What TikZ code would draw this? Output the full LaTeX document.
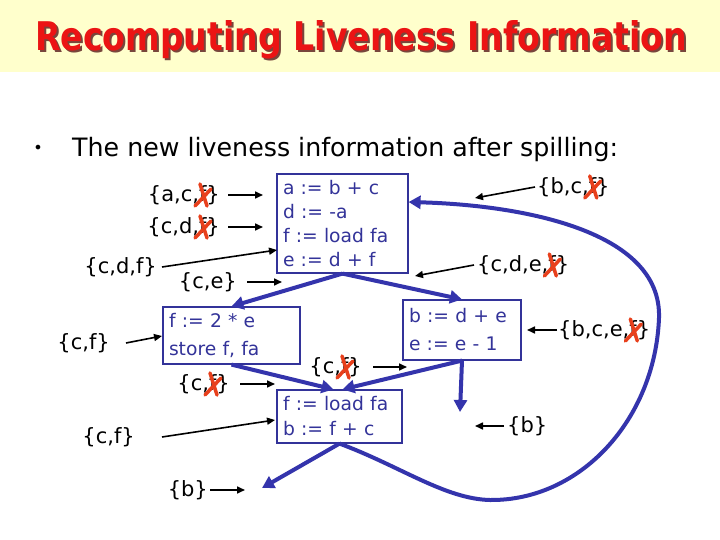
\documentclass[tikz,border=0pt]{standalone}
\usepackage{fontspec}
\setmainfont{DejaVu Sans}
\usetikzlibrary{arrows.meta,calc}
\definecolor{band}{RGB}{255,255,204}
\definecolor{titlered}{RGB}{235,20,20}
\definecolor{titleshadow}{RGB}{120,70,60}
\definecolor{codeblue}{RGB}{51,51,153}
\definecolor{flowblue}{RGB}{52,52,172}
\definecolor{xred}{RGB}{232,64,28}
\newcommand\crossf[2]{%
  \begin{scope}[shift={($(#1.east)+(-#2-17,0)$)}]
    \draw[xstroke] (-3,-11) -- (4,11);
    \draw[xstroke] (-8,11) -- (8,-6);
  \end{scope}}
\begin{document}
\begin{tikzpicture}[x=1pt,y=-1pt,
  setlbl/.style={font=\fontsize{21}{21}\selectfont, inner ysep=0pt, text=black},
  blk/.style={draw=codeblue, line width=1.2pt, text=codeblue, align=left, inner xsep=6pt, inner ysep=2pt},
  flow/.style={draw=flowblue, line width=4pt, -{Triangle[length=12pt,width=13pt]}},
  lblarrow/.style={draw=black, line width=1.6pt, -{Triangle[length=8pt,width=7pt]}},
  xstroke/.style={draw=xred, line width=3.5pt, line cap=round}]
\useasboundingbox (0,0) rectangle (720,540);
\fill[white] (0,0) rectangle (720,540);
\fill[band] (0,0) rectangle (720,72);
% title with shadow
\node[anchor=base west, inner sep=0pt, text=titleshadow] (titleS) at (37,53)
  {\resizebox{652pt}{30pt}{\bfseries Recomputing Liveness Information}};
\node[anchor=base west, inner sep=0pt, text=titlered] (title) at (35,51)
  {\resizebox{652pt}{30pt}{\bfseries Recomputing Liveness Information}};
% bullet
\node[inner sep=0pt, font=\fontsize{16}{16}\selectfont] (bul) at (38,149) {•};
\node[anchor=base west, inner sep=0pt, font=\fontsize{25.3}{25.3}\selectfont] (head) at (72,157)
  {The new liveness information after spilling:};
% blocks
\node[blk, minimum width=131pt, minimum height=99pt, text width=119pt,
      font=\fontsize{18.7}{24}\selectfont] (B1) at (342.5,223.5)
  {a := b + c\\ d := -a\\ f := load fa\\ e := d + f};
\node[blk, minimum width=137pt, minimum height=57pt, text width=125pt,
      font=\fontsize{18.7}{28}\selectfont] (B2) at (231.5,335.5)
  {f := 2 * e\\ store f, fa};
\node[blk, minimum width=118pt, minimum height=60pt, text width=106pt,
      font=\fontsize{18.7}{28}\selectfont] (B3) at (462,330)
  {b := d + e\\ e := e - 1};
\node[blk, minimum width=125pt, minimum height=53pt, text width=113pt,
      font=\fontsize{18.7}{25}\selectfont] (B4) at (339.5,416.5)
  {f := load fa\\ b := f + c};
% flow edges
\coordinate (b3out) at (460,412);
\coordinate (b4out) at (262,488);
\draw[flow] (B1.south) -- (B2.north);
\draw[flow] (B1.south) -- (B3.north);
\draw[flow] (B2.south) -- ([xshift=-6pt]B4.north);
\draw[flow] (B3.south) -- ([xshift=3pt]B4.north);
\draw[flow] (B3.south) -- (b3out);
\draw[flow] (B4.south) -- (b4out);
\draw[flow] (B4.south) .. controls (400,466) and (445,499) .. (490,500)
  .. controls (580,501) and (655,420) .. (659,318)
  .. controls (662,230) and (520,205) .. ([yshift=21.5pt]B1.east);
% set labels
\node[setlbl, anchor=east, inner xsep=8pt] (s1) at (228,195) {\{a,c,f\}};
\node[setlbl, anchor=east, inner xsep=8pt] (s2) at (228,227) {\{c,d,f\}};
\node[setlbl, anchor=east, inner xsep=5pt] (s3) at (162,267) {\{c,d,f\}};
\node[setlbl, anchor=east, inner xsep=10pt] (s4) at (247,282) {\{c,e\}};
\node[setlbl, anchor=east, inner xsep=16pt] (s5) at (126,343) {\{c,f\}};
\node[setlbl, anchor=east, inner xsep=10pt] (s6) at (240,384) {\{c,f\}};
\node[setlbl, anchor=east, inner xsep=11pt] (s7) at (373,367) {\{c,f\}};
\node[setlbl, anchor=east, inner xsep=27pt] (s8) at (162,437) {\{c,f\}};
\node[setlbl, anchor=east, inner xsep=2pt] (s9) at (210,490) {\{b\}};
\node[setlbl, anchor=west, inner xsep=2pt] (s10) at (535,187) {\{b,c,f\}};
\node[setlbl, anchor=west, inner xsep=3pt] (s11) at (474,265) {\{c,d,e,f\}};
\node[setlbl, anchor=west, inner xsep=1pt] (s12) at (557,330) {\{b,c,e,f\}};
\node[setlbl, anchor=west, inner xsep=3pt] (s13) at (504,426) {\{b\}};
\coordinate (t1) at (263,195);
\coordinate (t2) at (263,227);
\coordinate (t3) at (277,250);
\coordinate (t4) at (282,282);
\coordinate (t5) at (162,336);
\coordinate (t6) at (275,384);
\coordinate (t7) at (407,367);
\coordinate (t8) at (275,420);
\coordinate (t9) at (245,490);
\coordinate (t10) at (475,198);
\coordinate (t11) at (415,276);
\coordinate (t12) at (527,330);
\coordinate (t13) at (475,426);
\foreach \i in {1,...,9} {\draw[lblarrow] (s\i.east) -- (t\i);}
\foreach \i in {10,...,13} {\draw[lblarrow] (s\i.west) -- (t\i);}
% crosses
\crossf{s1}{8}
\crossf{s2}{8}
\crossf{s6}{10}
\crossf{s7}{11}
\crossf{s10}{2}
\crossf{s11}{3}
\crossf{s12}{1}
\end{tikzpicture}
\end{document}
